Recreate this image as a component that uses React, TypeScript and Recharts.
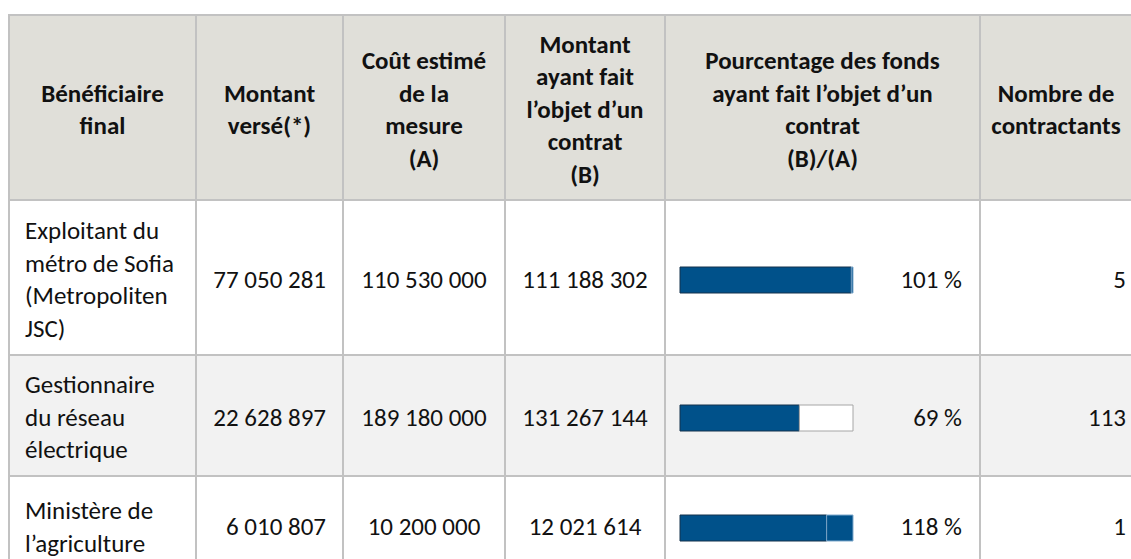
import { Bar, BarChart, XAxis, YAxis } from "recharts";

const headers = [
  ["Bénéficiaire", "final"],
  ["Montant", "versé(*)"],
  ["Coût estimé", "de la", "mesure", "(A)"],
  ["Montant", "ayant fait", "l’objet d’un", "contrat", "(B)"],
  ["Pourcentage des fonds", "ayant fait l’objet d’un", "contrat", "(B)/(A)"],
  ["Nombre de", "contractants"],
];

const beneficiaries = [
  ["Exploitant du", "métro de Sofia", "(Metropoliten", "JSC)"],
  ["Gestionnaire", "du réseau", "électrique"],
  ["Ministère de", "l’agriculture"],
];
const paid = [77050281, 22628897, 6010807];
const estimated = [110530000, 189180000, 10200000];
const contracted = [111188302, 131267144, 12021614];
const contractors = [5, 113, 1];

// grid lines of the table (page pixels)
const colX = [9, 196, 343, 505, 665, 980, 1132];
const rowY = [15, 200, 355, 476, 574];

const BLUE = "#00518a";
const LINE = "#c2c2c2";
const FONT = "Carlito, Calibri, Lato, sans-serif";

const fmt = (n: number) => n.toString().replace(/\B(?=(\d{3})+(?!\d))/g, " ");

const ProgressBar = ({ pct }: { pct: number }) => {
  const data = [
    {
      name: "r",
      base: Math.min(pct, 100),
      over: Math.max(pct - 100, 0),
      rest: Math.max(100 - pct, 0),
    },
  ];
  return (
    <BarChart
      width={175}
      height={28}
      data={data}
      layout="vertical"
      margin={{ top: 1, right: 1, left: 1, bottom: 1 }}
      barCategoryGap={0}
    >
      <XAxis type="number" domain={[0, Math.max(pct, 100)]} hide />
      <YAxis type="category" dataKey="name" hide />
      <Bar dataKey="base" stackId="a" fill={BLUE} stroke="#15324d" strokeWidth={1} isAnimationActive={false} />
      <Bar dataKey="over" stackId="a" fill={BLUE} stroke="#7fa9cc" strokeWidth={1} isAnimationActive={false} />
      <Bar dataKey="rest" stackId="a" fill="#ffffff" stroke="#a6a6a6" strokeWidth={1} isAnimationActive={false} />
    </BarChart>
  );
};

const Cell = ({
  c,
  r,
  style,
  children,
}: {
  c: number;
  r: number;
  style?: React.CSSProperties;
  children?: React.ReactNode;
}) => (
  <div
    style={{
      position: "absolute",
      left: colX[c],
      top: rowY[r],
      width: colX[c + 1] - colX[c],
      height: rowY[r + 1] - rowY[r],
      boxSizing: "border-box",
      display: "flex",
      flexDirection: "column",
      justifyContent: "center",
      paddingTop: 5,
      ...style,
    }}
  >
    {children}
  </div>
);

const lines = (arr: string[]) =>
  arr.map((l, i) => (
    <div key={i} style={{ whiteSpace: "nowrap" }}>
      {l}
    </div>
  ));

const App = () => {
  const rowBg = ["#e0dfd9", "#ffffff", "#f2f2f2", "#ffffff"];
  return (
    <div
      style={{
        position: "fixed",
        left: 0,
        top: 0,
        width: 1131,
        height: 559,
        overflow: "hidden",
        fontFamily: FONT,
        fontSize: 25,
        lineHeight: "32.5px",
        color: "#111",
        background: "#fff",
      }}
    >
      {rowBg.map((bg, r) => (
        <div
          key={"bg" + r}
          style={{
            position: "absolute",
            left: colX[0],
            top: rowY[r],
            width: colX[colX.length - 1] - colX[0],
            height: rowY[r + 1] - rowY[r],
            background: bg,
          }}
        />
      ))}
      {headers.map((h, i) => (
        <Cell key={"h" + i} c={i} r={0} style={{ textAlign: "center", fontWeight: "bold" }}>
          {lines(h)}
        </Cell>
      ))}
      {beneficiaries.map((b, i) => {
        const r = i + 1;
        const pct = Math.round((contracted[i] / estimated[i]) * 100);
        return (
          <div key={"row" + i}>
            <Cell c={0} r={r} style={{ paddingLeft: 16 }}>
              {lines(b)}
            </Cell>
            <Cell c={1} r={r} style={{ textAlign: "right", paddingRight: 17 }}>
              {fmt(paid[i])}
            </Cell>
            <Cell c={2} r={r} style={{ textAlign: "center" }}>
              {fmt(estimated[i])}
            </Cell>
            <Cell c={3} r={r} style={{ textAlign: "center" }}>
              {fmt(contracted[i])}
            </Cell>
            <Cell c={4} r={r}>
              <div
                style={{
                  display: "flex",
                  alignItems: "center",
                  justifyContent: "space-between",
                  paddingLeft: 14,
                  paddingRight: 18,
                }}
              >
                <ProgressBar pct={pct} />
                <span>{pct} %</span>
              </div>
            </Cell>
            <Cell c={5} r={r} style={{ textAlign: "right", paddingRight: 6 }}>
              {contractors[i]}
            </Cell>
          </div>
        );
      })}
      {rowY.slice(0, 4).map((y, i) => (
        <div
          key={"hl" + i}
          style={{
            position: "absolute",
            left: colX[0],
            top: y - 1,
            width: colX[colX.length - 1] - colX[0] + 10,
            height: 2,
            background: LINE,
          }}
        />
      ))}
      {colX.slice(0, 6).map((x, i) => (
        <div
          key={"vl" + i}
          style={{
            position: "absolute",
            left: x - 1,
            top: rowY[0] - 1,
            width: 2,
            height: rowY[rowY.length - 1] - rowY[0],
            background: LINE,
          }}
        />
      ))}
    </div>
  );
};

export default App;
